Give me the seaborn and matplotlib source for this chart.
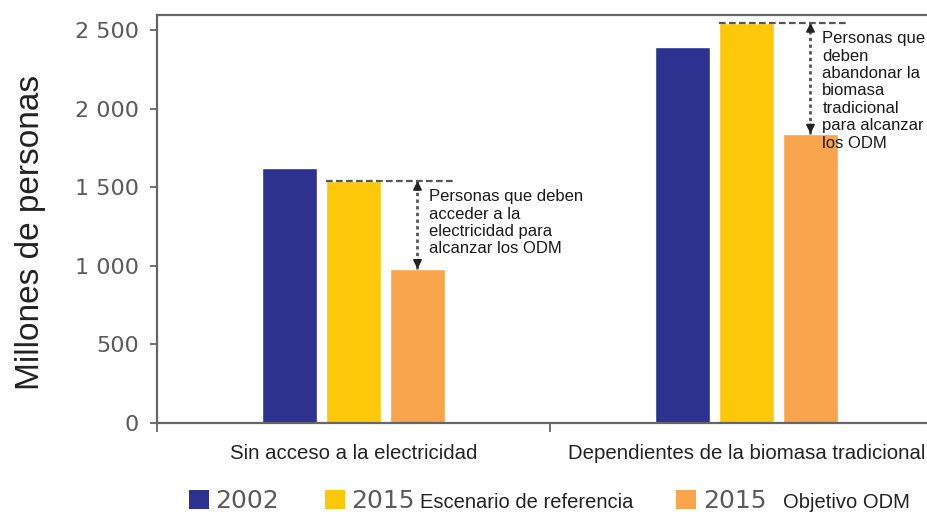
import pandas as pd
import numpy as np
import matplotlib
matplotlib.use('Agg')
import matplotlib.pyplot as plt
from matplotlib.patches import Rectangle
import seaborn as sns

sns.set_style('white')
plt.rcParams['font.family'] = ['Liberation Sans', 'DejaVu Sans']

# Datos (millones de personas)
categorias = ['Sin acceso a la electricidad', 'Dependientes de la biomasa tradicional']
series = ['2002', '2015 Escenario de referencia', '2015 Objetivo ODM']
valores_2002 = [1620, 2390]
valores_2015_ref = [1540, 2545]
valores_2015_odm = [980, 1840]
yticks = [0, 500, 1000, 1500, 2000, 2500]
ytick_labels = ['0', '500', '1 000', '1 500', '2 000', '2 500']
notas = ['Personas que deben\nacceder a la\nelectricidad para\nalcanzar los ODM',
         'Personas que\ndeben\nabandonar la\nbiomasa\ntradicional\npara alcanzar\nlos ODM']

COLORES = ['#2d3190', '#fec80a', '#f9a54e']
GRIS = '#5a5a5a'
FUENTE_NUM = ['DejaVu Sans Condensed', 'DejaVu Sans']

df = pd.DataFrame({
    'categoria': categorias * 3,
    'serie': [s for s in series for _ in categorias],
    'valor': valores_2002 + valores_2015_ref + valores_2015_odm,
})

fig = plt.figure(figsize=(9.28, 5.14), dpi=100)
ax = fig.add_axes([157 / 928, 1 - 423 / 514, 786 / 928, 408 / 514])

sns.barplot(data=df, x='categoria', y='valor', hue='serie', hue_order=series,
            order=categorias, palette=COLORES, saturation=1, width=0.4885,
            gap=0.14, legend=False, ax=ax)

ax.set_xlim(-0.5, 1.5)
ax.set_ylim(0, 2595)

# Ejes
for side in ['left', 'bottom', 'top']:
    ax.spines[side].set_color('#666666')
    ax.spines[side].set_linewidth(1.6)
ax.spines['right'].set_visible(False)

ax.set_yticks(yticks)
ax.set_yticklabels(ytick_labels, fontfamily=FUENTE_NUM, fontsize=16, color=GRIS)
ax.tick_params(axis='y', direction='out', length=5, width=1.3, color='#666666',
               pad=8, left=True)

ax.set_xticks([0, 1])
ax.set_xticklabels(categorias, fontsize=14.7, color='#222222')
ax.set_xticks([-0.5, 0.5, 1.5], minor=True)
ax.tick_params(axis='x', which='major', length=0, pad=15)
ax.tick_params(axis='x', which='minor', direction='out', length=6.5, width=1.3,
               color='#666666', bottom=True)

ax.set_xlabel('')
ax.set_ylabel('Millones de personas', fontsize=24, color='#222222')
ax.yaxis.set_label_coords(-0.141, 0.468)

# Anotaciones: diferencia entre escenario de referencia y objetivo ODM
for i, nota in enumerate(notas):
    bar_ref = ax.containers[1][i]
    bar_odm = ax.containers[2][i]
    x_odm = bar_odm.get_x() + bar_odm.get_width() / 2
    y_ref = bar_ref.get_height()
    y_odm = bar_odm.get_height()

    ax.plot([bar_ref.get_x(), x_odm + 0.094], [y_ref, y_ref], color='#555555',
            linestyle=(0, (3, 1.5)), linewidth=1.6, zorder=4)
    ax.plot([x_odm, x_odm], [y_odm, y_ref], color='#555555',
            linestyle=(0, (1.2, 1.2)), linewidth=2, zorder=4)
    for y_tip, y_from in [(y_ref, y_ref - 60), (y_odm, y_odm + 60)]:
        ax.annotate('', xy=(x_odm, y_tip), xytext=(x_odm, y_from),
                    arrowprops=dict(arrowstyle='-|>', color='#222222', lw=1.2,
                                    mutation_scale=13, shrinkA=0, shrinkB=0),
                    zorder=5)
    ax.annotate(nota, xy=(x_odm, y_ref), xytext=(8.5, -6), textcoords='offset points',
                ha='left', va='top', fontsize=12, color='#1a1a1a', linespacing=1.2,
                zorder=6)

# Leyenda
def px(x, y):
    return x / 928, 1 - y / 514

leyenda = [
    (189, COLORES[0], 215, '2002', None, None),
    (325, COLORES[1], 351, '2015', 420, 'Escenario de referencia'),
    (676, COLORES[2], 703, '2015', 783, 'Objetivo ODM'),
]
for x_sq, color, x_num, num, x_txt, txt in leyenda:
    x0, y0 = px(x_sq, 509)
    fig.add_artist(Rectangle((x0, y0), 20 / 928, 19 / 514, transform=fig.transFigure,
                             facecolor=color, edgecolor='none'))
    fig.text(*px(x_num, 508), num, fontfamily=FUENTE_NUM, fontsize=18,
             color=GRIS, ha='left', va='baseline')
    if txt:
        fig.text(*px(x_txt, 508), txt, fontsize=14.5, color='#222222',
                 ha='left', va='baseline')

plt.savefig('out.png', dpi=100)
plt.close()
